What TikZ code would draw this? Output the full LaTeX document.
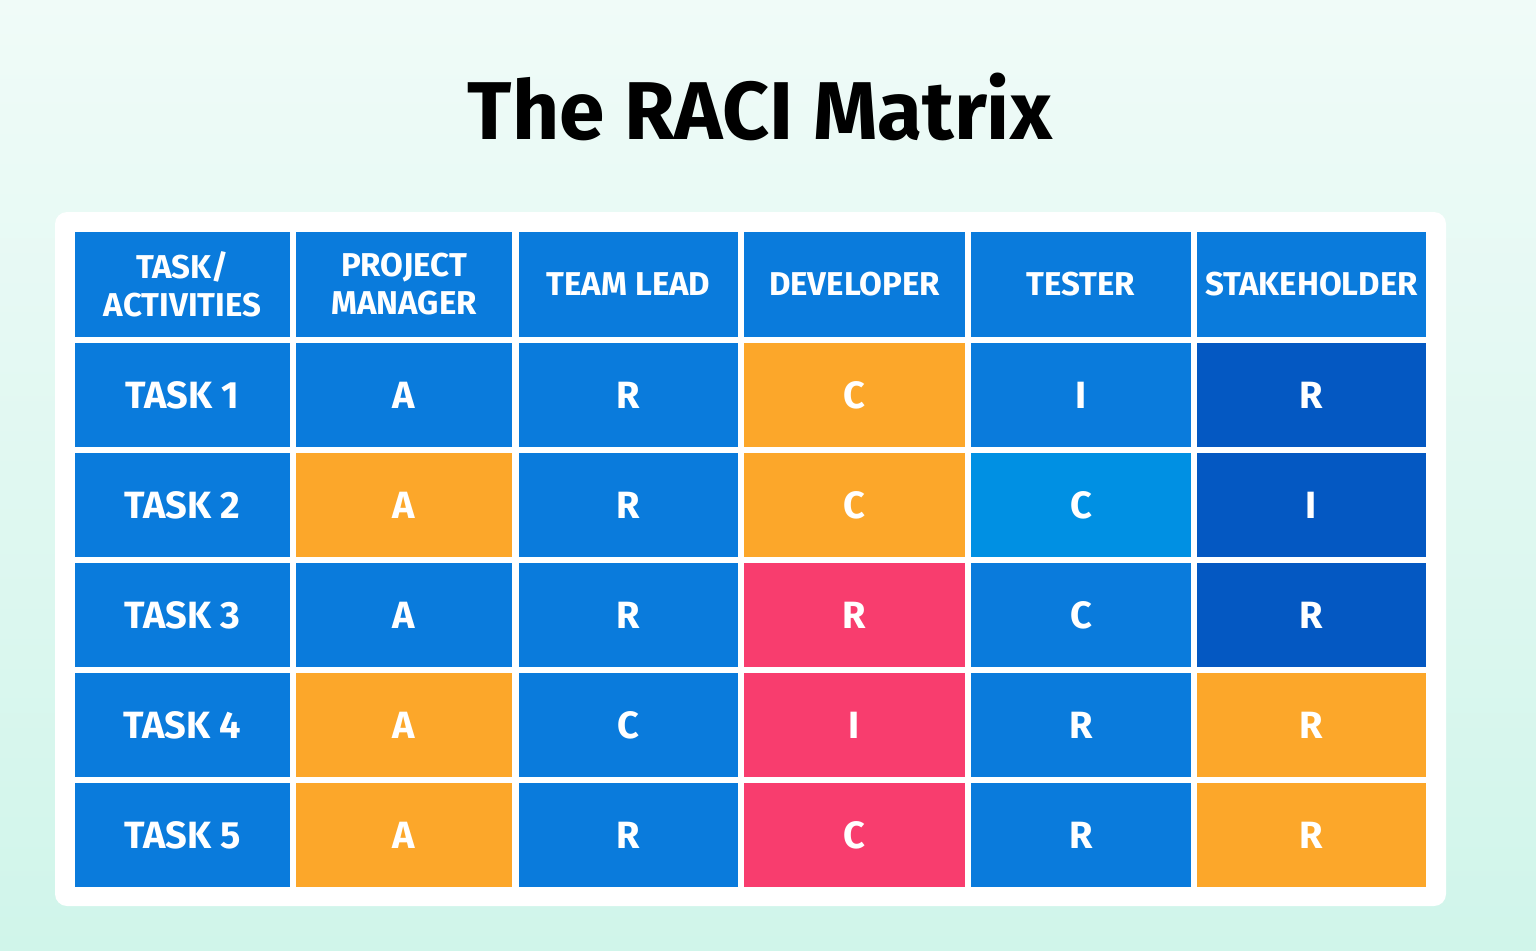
\documentclass[tikz,border=0pt]{standalone}
\usepackage{fontspec}
\setmainfont{Fira Sans}
\definecolor{cb}{HTML}{0A7BDC}
\definecolor{co}{HTML}{FCA72A}
\definecolor{cp}{HTML}{F83D6E}
\definecolor{cl}{HTML}{0090E3}
\definecolor{cd}{HTML}{0458C2}
\definecolor{bgt}{HTML}{F0FBF8}
\definecolor{bgb}{HTML}{D0F5EA}
\tikzset{cellbox/.style={draw=none,inner sep=0pt,align=center,text=white,font=\fontsize{38}{40}\selectfont\bfseries},
 headbox/.style={cellbox,font=\fontsize{33}{38}\selectfont\bfseries}}
\begin{document}
\begin{tikzpicture}[x=1pt,y=-1pt]
\shade[top color=bgt,bottom color=bgb] (0,0) rectangle (1536,950);
\useasboundingbox (0,0) rectangle (1536,950);
\node[font=\fontsize{82}{86}\selectfont\bfseries] (title) at (760,107) {The RACI Matrix};
\fill[white,rounded corners=12pt] (55,212) rectangle (1446,906);
\def\xs{{75,296,519,744,971,1197}}
\def\xe{{290,512,738,965,1191,1426}}
\def\ys{{232,343,453,563,673,783}}
\def\ye{{337,447,557,667,777,887}}
\newcommand\cellat[5]{%
 \pgfmathsetmacro\xa{\xs[#1]}\pgfmathsetmacro\xb{\xe[#1]}%
 \pgfmathsetmacro\ya{\ys[#2]}\pgfmathsetmacro\yb{\ye[#2]}%
 \fill[#3] (\xa,\ya) rectangle (\xb,\yb);
 \node[#5] (c#1-#2) at ({(\xa+\xb)/2},{(\ya+\yb)/2}) {#4};}
\cellat{0}{0}{cb}{TASK/\\ACTIVITIES}{headbox}
\cellat{1}{0}{cb}{PROJECT\\MANAGER}{headbox}
\cellat{2}{0}{cb}{TEAM LEAD}{headbox}
\cellat{3}{0}{cb}{DEVELOPER}{headbox}
\cellat{4}{0}{cb}{TESTER}{headbox}
\cellat{5}{0}{cb}{STAKEHOLDER}{headbox}
\cellat{0}{1}{cb}{TASK 1}{cellbox}\cellat{1}{1}{cb}{A}{cellbox}\cellat{2}{1}{cb}{R}{cellbox}\cellat{3}{1}{co}{C}{cellbox}\cellat{4}{1}{cb}{I}{cellbox}\cellat{5}{1}{cd}{R}{cellbox}
\cellat{0}{2}{cb}{TASK 2}{cellbox}\cellat{1}{2}{co}{A}{cellbox}\cellat{2}{2}{cb}{R}{cellbox}\cellat{3}{2}{co}{C}{cellbox}\cellat{4}{2}{cl}{C}{cellbox}\cellat{5}{2}{cd}{I}{cellbox}
\cellat{0}{3}{cb}{TASK 3}{cellbox}\cellat{1}{3}{cb}{A}{cellbox}\cellat{2}{3}{cb}{R}{cellbox}\cellat{3}{3}{cp}{R}{cellbox}\cellat{4}{3}{cb}{C}{cellbox}\cellat{5}{3}{cd}{R}{cellbox}
\cellat{0}{4}{cb}{TASK 4}{cellbox}\cellat{1}{4}{co}{A}{cellbox}\cellat{2}{4}{cb}{C}{cellbox}\cellat{3}{4}{cp}{I}{cellbox}\cellat{4}{4}{cb}{R}{cellbox}\cellat{5}{4}{co}{R}{cellbox}
\cellat{0}{5}{cb}{TASK 5}{cellbox}\cellat{1}{5}{co}{A}{cellbox}\cellat{2}{5}{cb}{R}{cellbox}\cellat{3}{5}{cp}{C}{cellbox}\cellat{4}{5}{cb}{R}{cellbox}\cellat{5}{5}{co}{R}{cellbox}
\end{tikzpicture}
\end{document}
